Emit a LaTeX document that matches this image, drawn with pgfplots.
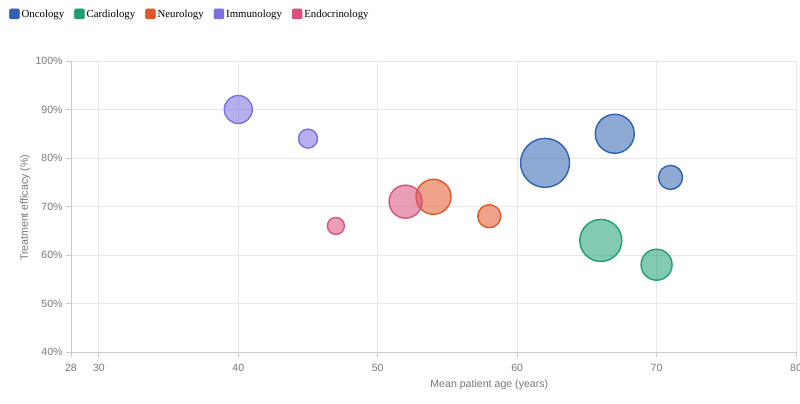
\documentclass[border=0pt]{standalone}
\usepackage{pgfplots}
\pgfplotsset{compat=1.18}
\usepackage{fontspec}
\setmainfont{Liberation Serif}
\newfontfamily\lsans{Liberation Sans}
\definecolor{onc}{HTML}{2F62B0}
\definecolor{car}{HTML}{1E9E72}
\definecolor{neu}{HTML}{E0582A}
\definecolor{imm}{HTML}{7B6FE2}
\definecolor{endo}{HTML}{D9507C}
\definecolor{txtgray}{HTML}{777777}
\definecolor{gridgray}{HTML}{E8E8E8}
\definecolor{axgray}{HTML}{CCCCCC}

\pgfplotsset{
  bubble/.style={
    scatter, only marks, mark=*,
    scatter/use mapped color={draw=#1, fill=#1},
    visualization depends on={\thisrow{r}\as\bubblerad},
    scatter/@pre marker code/.append style={/tikz/mark size=\bubblerad},
    mark options={line width=1.4pt, fill opacity=0.55},
    legend image code/.code={\fill[#1, rounded corners=1.2pt] (0pt,-4.5pt) rectangle (10pt,5.5pt);},
  },
}

\begin{document}
\begin{tikzpicture}
\path[use as bounding box] (-71pt,-52pt) rectangle (729pt,352pt);
\begin{axis}[
  scale only axis, width=725pt, height=291pt,
  at={(0pt,0pt)}, anchor=south west,
  xmin=28, xmax=80, ymin=40, ymax=100,
  xtick={28,30,40,50,60,70,80},
  ytick={40,50,...,100},
  yticklabel={\pgfmathprintnumber{\tick}\%},
  /pgf/number format/assume math mode=true,
  ticklabel style={font=\lsans\fontsize{10.5}{12}\selectfont, text=txtgray},
  xticklabel style={yshift=-4pt},
  grid=major, major grid style={gridgray, line width=0.8pt},
  axis lines=left, axis line style={-, axgray, line width=0.8pt},
  tick align=outside, major tick length=5pt,
  tick style={axgray, line width=0.8pt},
  xlabel={Mean patient age (years)},
  ylabel={Treatment efficacy (\%)},
  label style={font=\lsans\fontsize{10.6}{12}\selectfont, text=txtgray},
  xlabel style={at={(axis description cs:0.577,0)}, anchor=center, yshift=-33pt},
  ylabel style={at={(axis description cs:-0.0634,0.495)}, anchor=center},
  legend columns=-1,
  legend style={at={(axis description cs:-0.0855,1.183)}, anchor=north west, draw=none, fill=none,
    font=\fontsize{10.8}{13}\selectfont, /tikz/every even column/.append style={column sep=8pt},
    inner sep=0pt},
  legend cell align=left,
  clip=false,
]
\addplot[bubble=onc] table {
x y r
62 79 24.5
67 85 19.5
71 76 12
};
\addlegendentry{Oncology}
\addplot[bubble=car] table {
x y r
66 63 21
70 58 15.5
};
\addlegendentry{Cardiology}
\addplot[bubble=neu] table {
x y r
54 72 17.5
58 68 11.5
};
\addlegendentry{Neurology}
\addplot[bubble=imm] table {
x y r
40 90 14
45 84 9.5
};
\addlegendentry{Immunology}
\addplot[bubble=endo] table {
x y r
47 66 8.5
52 71 16.5
};
\addlegendentry{Endocrinology}
\end{axis}
\end{tikzpicture}
\end{document}
